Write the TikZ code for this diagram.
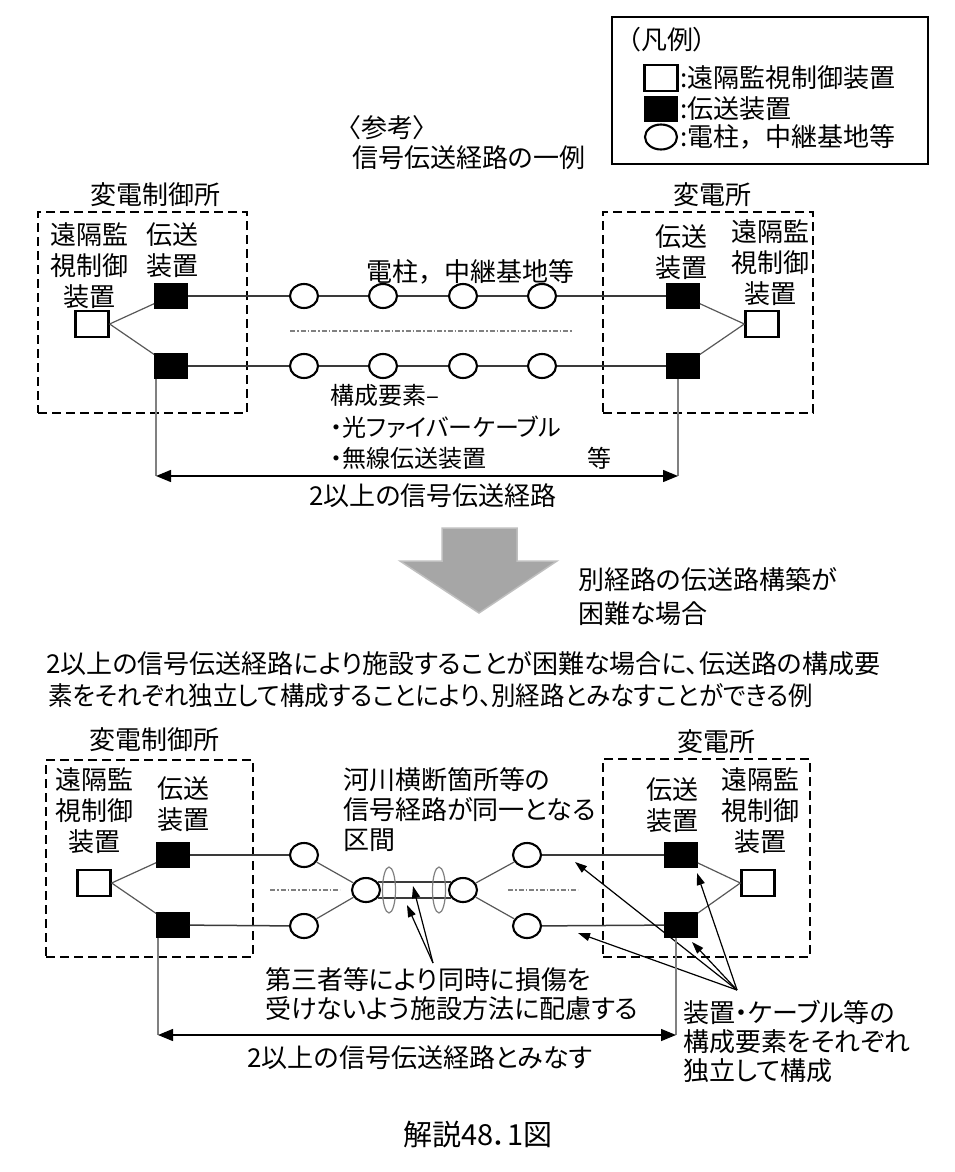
\documentclass[tikz,border=0pt]{standalone}
\usepackage{fontspec}
\usetikzlibrary{shapes.geometric,arrows.meta}
\newfontfamily\jp[RawFeature=+palt]{Noto Sans CJK JP}
\newfontfamily\jpf{Noto Sans CJK JP}
\definecolor{arrowgray}{HTML}{A6A6A6}
\definecolor{arrowedge}{HTML}{BFBFBF}
\definecolor{linegray}{HTML}{3A3A3A}
\tikzset{
  txt/.style={font=\jp\fontsize{26}{31}\selectfont, inner sep=0pt, align=center, text=black},
  txtl/.style={txt, align=left, anchor=west},
  wsq/.style={draw, fill=white, line width=2.3pt, minimum width=33pt, minimum height=26pt, inner sep=0pt},
  bsq/.style={draw, fill=black, line width=0.8pt, minimum width=33pt, minimum height=25pt, inner sep=0pt},
  pole/.style={ellipse, draw, fill=white, line width=2.1pt, minimum width=28pt, minimum height=24pt, inner sep=0pt},
  dbox/.style={draw, line width=2.7pt, dash pattern=on 9pt off 5pt, inner sep=0pt},
  link/.style={draw=linegray, line width=1.5pt},
  feed/.style={draw=linegray!85, line width=1.2pt},
  dimline/.style={draw=gray, line width=1.2pt},
  dimarrow/.style={line width=1.4pt, {Triangle[length=15pt,width=12pt]}-{Triangle[length=15pt,width=12pt]}},
  callout/.style={line width=1.2pt, -{Triangle[length=12pt,width=8pt]}},
  dashdot/.style={draw=gray, line width=1.1pt, dash pattern=on 5pt off 2pt on 1.5pt off 2pt},
  ring/.style={draw=gray, line width=1.2pt},
}
\begin{document}
\begin{tikzpicture}[x=1pt,y=-1pt]
\fill[white] (0,0) rectangle (954,1172);
\useasboundingbox (0,0) rectangle (954,1172);

% ---------- legend ----------
\node[draw, line width=1.8pt, minimum width=316pt, minimum height=147pt, inner sep=0pt] (legend) at (770,90.5) {};
\node[txt] (lgtitle) at (667,40) {（凡例）};
\node[wsq] (lgw) at (661,78) {};
\node[txtl] (lgwt) at (680,78) {:遠隔監視制御装置};
\node[bsq] (lgb) at (661,109) {};
\node[txtl] (lgbt) at (680,109) {:伝送装置};
\node[pole, minimum width=32pt, minimum height=25pt] (lgc) at (661,137) {};
\node[txtl, font=\jpf\fontsize{26}{31}\selectfont] (lgct) at (680,137) {:電柱，中継基地等};

% ---------- title ----------
\node[txtl] (refT) at (348,128) {〈参考〉};
\node[txtl] (ttl) at (352,158) {信号伝送経路の一例};

% ---------- top diagram ----------
\node[dbox, minimum width=209pt, minimum height=201pt] (boxTL) at (142.5,312.5) {};
\node[dbox, minimum width=210pt, minimum height=201pt] (boxTR) at (708,312.5) {};
\node[txt] (sccT) at (155,195) {変電制御所};
\node[txt] (ssT) at (712,195) {変電所};
\node[txt] (rcTL) at (89,266) {遠隔監\\視制御\\装置};
\node[txt] (tdTL) at (172,250) {伝送\\装置};
\node[txt] (tdTR) at (681,252) {伝送\\装置};
\node[txt] (rcTR) at (770,263) {遠隔監\\視制御\\装置};

\node[wsq] (wTL) at (92,324) {};
\node[bsq] (bTL1) at (171,296) {};
\node[bsq] (bTL2) at (171,366) {};
\node[bsq] (bTR1) at (683,296) {};
\node[bsq] (bTR2) at (683,366) {};
\node[wsq] (wTR) at (762,324) {};

\node[pole] (pa1) at (304,296) {};
\node[pole] (pa2) at (383,296) {};
\node[pole] (pa3) at (463,296) {};
\node[pole] (pa4) at (542,296) {};
\node[pole] (pb1) at (304,366) {};
\node[pole] (pb2) at (383,366) {};
\node[pole] (pb3) at (463,366) {};
\node[pole] (pb4) at (542,366) {};

\draw[feed] (wTL.east) -- (bTL1);
\draw[feed] (wTL.east) -- (bTL2);
\draw[feed] (bTR1) -- (wTR.west);
\draw[feed] (bTR2) -- (wTR.west);
\draw[link] (bTL1) -- (pa1) -- (pa2) -- (pa3) -- (pa4) -- (bTR1);
\draw[link] (bTL2) -- (pb1) -- (pb2) -- (pb3) -- (pb4) -- (bTR2);

\coordinate (ddTa) at (290,331);
\coordinate (ddTb) at (573,331);
\draw[dashdot] (ddTa) -- (ddTb);

\node[txtl, font=\jpf\fontsize{26}{31}\selectfont] (poleT) at (366,272) {電柱，中継基地等};
\node[txtl, font=\jp\fontsize{24}{31}\selectfont] (compT) at (330,395) {構成要素–};
\node[txtl, font=\jp\fontsize{24}{31}\selectfont] (comp1) at (330,427) {・光ファイバーケーブル};
\node[txtl, font=\jp\fontsize{24}{31}\selectfont] (comp2) at (330,458) {・無線伝送装置};
\node[txt, font=\jp\fontsize{24}{31}\selectfont] (comp3) at (599,458) {等};

\coordinate (dimTL) at (156,476);
\coordinate (dimTR) at (678,476);
\draw[dimline] (dimTL |- bTL2.south) -- (dimTL);
\draw[dimline] (dimTR |- bTR2.south) -- (dimTR);
\draw[dimarrow] (dimTL) -- (dimTR);
\node[txt] (dimTtxt) at (433,496) {2以上の信号伝送経路};

% ---------- big arrow ----------
\filldraw[fill=arrowgray, draw=arrowedge, line width=1.5pt]
  (442,528) -- (517,528) -- (517,561) -- (557,561) -- (479,613) -- (400,561) -- (442,561) -- cycle;
\node[txtl, font=\jp\fontsize{26}{34}\selectfont] (hard) at (578,597) {別経路の伝送路構築が\\困難な場合};

% ---------- header ----------
\node[txtl] (hdr1) at (46,664) {2以上の信号伝送経路により施設することが困難な場合に、伝送路の構成要};
\node[txtl, xscale=0.94, transform shape] (hdr2) at (48,696) {素をそれぞれ独立して構成することにより、別経路とみなすことができる例};

% ---------- bottom diagram ----------
\node[dbox, minimum width=207pt, minimum height=197pt] (boxBL) at (149.5,858.5) {};
\node[dbox, minimum width=207pt, minimum height=198pt] (boxBR) at (706.5,858) {};
\node[txt] (sccB) at (154,740) {変電制御所};
\node[txt] (ssB) at (716,742) {変電所};
\node[txt] (rcBL) at (94,811) {遠隔監\\視制御\\装置};
\node[txt] (tdBL) at (183,804) {伝送\\装置};
\node[txt] (tdBR) at (672,805) {伝送\\装置};
\node[txt] (rcBR) at (760,811) {遠隔監\\視制御\\装置};

\node[wsq] (wBL) at (94,883) {};
\node[bsq] (bBL1) at (173,855) {};
\node[bsq] (bBL2) at (173,925) {};
\node[bsq] (bBR1) at (681,855) {};
\node[bsq] (bBR2) at (681,925) {};
\node[wsq] (wBR) at (758,883) {};

\node[pole] (qL1) at (304,855) {};
\node[pole] (qL2) at (304,926) {};
\node[pole] (qCL) at (366,890) {};
\node[pole] (qCR) at (463,890) {};
\node[pole] (qR1) at (527,855) {};
\node[pole] (qR2) at (527,926) {};

\draw[feed] (wBL.east) -- (bBL1);
\draw[feed] (wBL.east) -- (bBL2);
\draw[feed] (bBR1) -- (wBR.west);
\draw[feed] (bBR2) -- (wBR.west);
\draw[link] (bBL1) -- (qL1);
\draw[link] (bBL2) -- (qL2);
\draw[feed] (qL1) -- (qCL);
\draw[feed] (qL2) -- (qCL);
\draw[feed] (qCR) -- (qR1);
\draw[feed] (qCR) -- (qR2);
\draw[link] (qR1) -- (bBR1);
\draw[link] (qR2) -- (bBR2);
\draw[link] (qCL.33) -- (qCR.147);
\draw[link] (qCL.-33) -- (qCR.-147);
\draw[ring] (389,890) ellipse (6.5 and 23);
\draw[ring] (439,890) ellipse (6.5 and 23);

\coordinate (ddBa) at (270,890);
\coordinate (ddBb) at (340,890);
\coordinate (ddBc) at (508,890);
\coordinate (ddBd) at (578,890);
\draw[dashdot] (ddBa) -- (ddBb);
\draw[dashdot] (ddBc) -- (ddBd);

\node[txtl, font=\jp\fontsize{26}{30}\selectfont] (river) at (343,810) {河川横断箇所等の\\信号経路が同一となる\\区間};
\node[txtl, font=\jp\fontsize{26}{29}\selectfont] (third) at (265,994) {第三者等により同時に損傷を\\受けないよう施設方法に配慮する};
\node[txtl, font=\jp\fontsize{26}{29}\selectfont] (indep) at (683,1041) {装置・ケーブル等の\\構成要素をそれぞれ\\独立して構成};

\coordinate (cA) at (433,963);
\coordinate (cA1) at (413,886);
\coordinate (cA2) at (407,905);
\draw[callout] (cA) -- (cA1);
\draw[callout] (cA) -- (cA2);

\coordinate (cB) at (737,990);
\coordinate (cB1) at (575,862);
\coordinate (cB2) at (578,933);
\coordinate (cB3) at (697,873);
\coordinate (cB4) at (692,942);
\draw[callout] (cB) -- (cB1);
\draw[callout] (cB) -- (cB2);
\draw[callout] (cB) -- (cB3);
\draw[callout] (cB) -- (cB4);

\coordinate (dimBL) at (158,1035);
\coordinate (dimBR) at (676,1035);
\draw[dimline] (dimBL |- bBL2.south) -- (dimBL);
\draw[dimline] (dimBR |- bBR2.south) -- (dimBR);
\draw[dimarrow] (dimBL) -- (dimBR);
\node[txt] (dimBtxt) at (420,1058) {2以上の信号伝送経路とみなす};

% ---------- caption ----------
\node[txt, font=\jp\fontsize{29}{31}\selectfont] (cap) at (478,1135) {解説48．1図};
\end{tikzpicture}
\end{document}
